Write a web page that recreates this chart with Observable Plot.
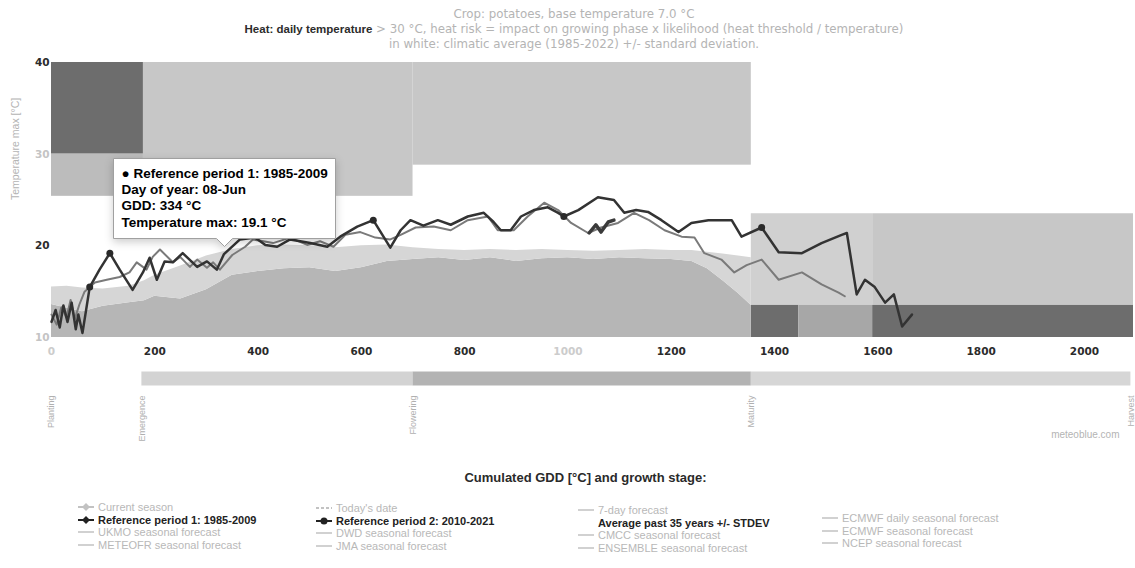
<!DOCTYPE html>
<html>
<head>
<meta charset="utf-8">
<script src="https://cdn.jsdelivr.net/npm/d3@7"></script>
<script src="https://cdn.jsdelivr.net/npm/@observablehq/plot@0.6"></script>
<style>
  html, body { margin: 0; padding: 0; background: #fff; }
  #chart { position: relative; width: 1135px; height: 568px; overflow: hidden; font-family: "Liberation Sans", Arial, sans-serif; }
  #chart > svg { position: absolute; left: 0; top: 0; }
  .ttl { position: absolute; left: 0; width: 1148px; text-align: center; font-family: "DejaVu Sans", sans-serif; font-size: 11.8px; color: #b4b4b4; white-space: nowrap; line-height: 14px; }
  .ttl b { color: #2c2c2c; font-family: "Liberation Sans", Arial, sans-serif; font-size: 11.5px; }
  .leg { position: absolute; font-size: 11px; white-space: nowrap; line-height: 12px; display: flex; align-items: center; }
  .leg svg { margin-right: 4px; }
</style>
</head>
<body>
<div id="chart"></div>
<script>
// ---------- texts ----------
const titleCrop = "Crop: potatoes, base temperature 7.0 °C";
const titleHeatBold = "Heat: daily temperature";
const titleHeatRest = " > 30 °C, heat risk = impact on growing phase x likelihood (heat threshold / temperature)";
const titleClimate = "in white: climatic average (1985-2022) +/- standard deviation.";
const yTitle = "Temperature max [°C]";
const xTitle = "Cumulated GDD [°C] and growth stage:";
const watermark = "meteoblue.com";

// ---------- tick labels ----------
const xTicksStrong = [200, 400, 600, 800, 1200, 1400, 1600, 1800, 2000];
const xTicksFaint = [0, 1000];
const yTicksStrong = [40, 20];
const yTicksFaint = [30, 10];

// ---------- growth stages ----------
const stageNames = ["Planting", "Emergence", "Flowering", "Maturity", "Harvest"];
const stageGdd = [0, 175, 700, 1355, 2090];

// ---------- heat risk zones ----------
const heatStart = [0, 0, 178, 700, 1355, 1590, 1355, 1447, 1590];
const heatEnd   = [178, 178, 700, 1355, 1590, 2095, 1447, 1590, 2095];
const heatLow   = [30, 25.4, 25.4, 28.8, 13.5, 13.5, 10, 10, 10];
const heatHigh  = [40, 30, 40, 40, 23.5, 23.5, 13.5, 13.5, 13.5];
const heatRisk  = ["high", "moderate", "low", "low", "mild", "low", "high", "elevated", "high"];

// ---------- climatic average +/- STDEV ----------
const avgGdd   = [0, 30, 60, 100, 150, 180, 200, 250, 300, 350, 400, 450, 500, 550, 600, 650, 700, 750, 800, 850, 900, 950, 1000, 1050, 1100, 1150, 1200, 1240, 1270, 1300, 1330, 1355];
const avgLower = [13.6, 13.2, 12.8, 13.4, 13.8, 14.0, 14.5, 14.2, 15.2, 16.8, 17.2, 17.5, 17.6, 17.2, 17.6, 18.3, 18.5, 18.7, 18.4, 18.7, 18.3, 18.6, 18.7, 18.5, 18.7, 18.6, 18.5, 18.3, 17.5, 16.2, 14.8, 13.5];
const avgUpper = [15.5, 15.6, 15.4, 15.3, 15.6, 16.2, 16.8, 17.8, 18.9, 19.6, 20.0, 20.1, 20.0, 19.8, 20.0, 20.1, 19.8, 19.6, 19.5, 19.6, 19.5, 19.6, 19.5, 19.4, 19.5, 19.6, 19.5, 19.5, 19.3, 19.1, 18.9, 18.7];

// ---------- Reference period 1: 1985-2009 ----------
const ref1Gdd  = [0, 8, 16, 23, 31, 39, 47, 52, 60, 74, 93, 113, 132, 157, 177, 190, 204, 219, 235, 254, 282, 301, 320, 334, 365, 394, 414, 437, 462, 501, 534, 559, 592, 623, 656, 676, 695, 720, 748, 773, 806, 837, 856, 870, 889, 909, 934, 961, 981, 992, 1020, 1058, 1089, 1109, 1132, 1155, 1181, 1214, 1239, 1272, 1317, 1336, 1375, 1408, 1453, 1491, 1530, 1540, 1559, 1575, 1594, 1614, 1631, 1647, 1666];
const ref1Temp = [11.7, 13.0, 11.1, 13.5, 11.7, 13.8, 10.9, 12.5, 10.5, 15.5, 17.4, 19.2, 17.4, 15.2, 17.1, 18.7, 16.3, 18.3, 18.2, 19.2, 17.7, 18.3, 17.4, 19.1, 20.7, 20.9, 20.1, 19.9, 20.7, 20.3, 19.9, 21.0, 22.1, 22.8, 19.8, 21.7, 22.8, 22.2, 22.8, 22.3, 23.2, 23.6, 22.6, 21.7, 21.7, 23.2, 23.9, 24.2, 23.6, 23.2, 23.9, 25.3, 25.0, 23.6, 23.9, 23.7, 22.8, 21.5, 22.5, 22.8, 22.8, 21.0, 22.0, 19.3, 19.2, 20.3, 21.2, 21.4, 14.7, 16.3, 15.5, 13.8, 14.7, 11.2, 12.5];
const ref1MarkerGdd = [74, 113, 623, 992, 1375];

// ---------- Reference period 2: 2010-2021 ----------
const ref2Gdd  = [0, 10, 19, 29, 37, 45, 54, 64, 84, 107, 132, 151, 165, 184, 196, 210, 235, 249, 268, 282, 301, 313, 326, 350, 375, 390, 429, 462, 495, 520, 546, 569, 598, 627, 656, 676, 705, 740, 773, 806, 845, 864, 895, 922, 954, 981, 1006, 1039, 1064, 1097, 1128, 1157, 1187, 1220, 1245, 1264, 1297, 1322, 1346, 1375, 1408, 1453, 1491, 1524, 1536];
const ref2Temp = [12.5, 11.4, 13.3, 12.2, 14.1, 12.0, 13.6, 15.0, 16.0, 16.3, 16.6, 17.1, 18.2, 17.4, 18.8, 19.6, 18.2, 18.8, 17.7, 18.5, 17.6, 18.2, 17.4, 19.0, 19.9, 20.7, 20.3, 20.9, 20.1, 20.5, 19.9, 21.2, 21.5, 20.9, 20.7, 21.2, 22.0, 22.1, 21.7, 22.8, 23.2, 21.7, 21.7, 23.2, 24.7, 23.9, 22.5, 21.4, 22.0, 22.5, 23.6, 22.8, 21.7, 21.0, 20.9, 19.2, 18.5, 17.1, 17.9, 18.5, 16.3, 17.1, 15.8, 14.9, 14.5];

// ---------- Current season ----------
const curGdd  = [1041, 1054, 1064, 1078, 1089];
const curTemp = [21.4, 22.3, 21.5, 22.6, 22.8];

// ---------- tooltip ----------
const tipSeries = "Reference period 1: 1985-2009";
const tipDay = "08-Jun";
const tipGdd = 334;
const tipTemp = 19.1;

// ---------- legend ----------
const legendCol1 = ["Current season", "Reference period 1: 1985-2009", "UKMO seasonal forecast", "METEOFR seasonal forecast"];
const legendCol2 = ["Today's date", "Reference period 2: 2010-2021", "DWD seasonal forecast", "JMA seasonal forecast"];
const legendCol3 = ["7-day forecast", "Average past 35 years +/- STDEV", "CMCC seasonal forecast", "ENSEMBLE seasonal forecast"];
const legendCol4 = ["ECMWF daily seasonal forecast", "ECMWF seasonal forecast", "NCEP seasonal forecast"];

// ================= build =================
const riskShade = {high: "#6d6d6d", elevated: "#a7a7a7", moderate: "#bcbcbc", low: "#c7c7c7", mild: "#d0d0d0"};
const heat = heatStart.map((s, i) => ({x1: s, x2: heatEnd[i], y1: heatLow[i], y2: heatHigh[i], risk: heatRisk[i]}));
const avg = avgGdd.map((g, i) => ({gdd: g, lower: avgLower[i], upper: avgUpper[i]}));
const ref1 = ref1Gdd.map((g, i) => ({gdd: g, temp: ref1Temp[i]}));
const ref1Markers = ref1.filter(d => ref1MarkerGdd.includes(d.gdd));
const ref2 = ref2Gdd.map((g, i) => ({gdd: g, temp: ref2Temp[i]}));
const cur = curGdd.map((g, i) => ({gdd: g, temp: curTemp[i]}));
const stages = stageNames.map((n, i) => ({name: n, gdd: stageGdd[i]}));
const stageBands = stages.slice(1, -1).map((s, i) => ({phase: s.name, start: s.gdd, end: stages[i + 2].gdd}));
const stageShade = {Emergence: "#d3d3d3", Flowering: "#b3b3b3", Maturity: "#d6d6d6"};
const yMin = 10;
const tipData = [{gdd: tipGdd, temp: tipTemp,
  text: `● ${tipSeries}\nDay of year: ${tipDay}\nGDD: ${tipGdd} °C\nTemperature max: ${tipTemp} °C`}];

const axisFont = {fontFamily: "DejaVu Sans", fontSize: 10.5, fontWeight: "bold", label: null, tickSize: 0, tickFormat: d => String(d)};

const chart = Plot.plot({
  width: 1135, height: 568,
  marginLeft: 51, marginRight: 2, marginTop: 62, marginBottom: 231,
  x: {domain: [0, 2095], axis: null},
  y: {domain: [yMin, 40], axis: null},
  color: {type: "identity"},
  style: {fontFamily: "Liberation Sans, sans-serif", background: "transparent", overflow: "visible"},
  marks: [
    Plot.rect(heat, {x1: "x1", x2: "x2", y1: "y1", y2: "y2", fill: d => riskShade[d.risk]}),
    Plot.areaY(avg, {x: "gdd", y1: yMin, y2: "lower", fill: "#b6b6b6"}),
    Plot.areaY(avg, {x: "gdd", y1: "lower", y2: "upper", fill: "#d6d6d6"}),
    Plot.line(ref2, {x: "gdd", y: "temp", stroke: "#7a7a7a", strokeWidth: 2, strokeLinejoin: "round"}),
    Plot.line(ref1, {x: "gdd", y: "temp", stroke: "#333333", strokeWidth: 2.5, strokeLinejoin: "round"}),
    Plot.dot(ref1Markers, {x: "gdd", y: "temp", r: 3.5, fill: "#2a2a2a"}),
    Plot.line(cur, {x: "gdd", y: "temp", stroke: "#3a3a3a", strokeWidth: 3.5, strokeLinejoin: "round"}),
    // axes
    Plot.axisY(yTicksStrong, {...axisFont, tickPadding: 2, color: "#2b2b2b"}),
    Plot.axisY(yTicksFaint, {...axisFont, tickPadding: 2, color: "#c4c4c4"}),
    Plot.axisX(xTicksStrong, {...axisFont, tickPadding: 10, color: "#2b2b2b"}),
    Plot.axisX(xTicksFaint, {...axisFont, tickPadding: 10, color: "#cccccc"}),
    Plot.text([yTitle], {frameAnchor: "left", dx: -36, rotate: -90, fill: "#b4b4b4", fontSize: 10.5}),
    // growth stage bar and labels
    Plot.ruleY(stageBands, {y: yMin, x1: "start", x2: "end", stroke: d => stageShade[d.phase], strokeWidth: 14, dy: 41}),
    Plot.text(stages, {x: "gdd", y: yMin, text: "name", rotate: -90, textAnchor: "end", dy: 58, fill: "#b0b0b0", fontSize: 9}),
    Plot.text([watermark], {frameAnchor: "bottom-right", dx: -14, dy: 100, textAnchor: "end", fill: "#b4b4b4", fontSize: 10}),
    Plot.text([xTitle], {frameAnchor: "bottom", dx: -7, dy: 144, fill: "#2a2a2a", fontSize: 13, fontWeight: "bold"}),
    // tooltip
    Plot.tip(tipData, {x: "gdd", y: "temp", title: "text", anchor: "bottom", pointerSize: 16, dy: -8, fontFamily: "Liberation Sans", fontSize: 13.5, fontWeight: "bold", lineHeight: 1.2, textPadding: 8, fill: "white", stroke: "#a0a0a0"})
  ]
});

const root = document.getElementById("chart");
root.appendChild(chart);

// titles
const t1 = document.createElement("div"); t1.className = "ttl"; t1.style.top = "7px"; t1.textContent = titleCrop; root.appendChild(t1);
const t2 = document.createElement("div"); t2.className = "ttl"; t2.style.top = "22px";
const b = document.createElement("b"); b.textContent = titleHeatBold; t2.appendChild(b);
t2.appendChild(document.createTextNode(titleHeatRest)); root.appendChild(t2);
const t3 = document.createElement("div"); t3.className = "ttl"; t3.style.top = "37px"; t3.textContent = titleClimate; root.appendChild(t3);

// legend
function marker(kind, color) {
  const ns = "http://www.w3.org/2000/svg";
  const s = document.createElementNS(ns, "svg");
  s.setAttribute("width", 16); s.setAttribute("height", 10);
  if (kind !== "none") {
    const l = document.createElementNS(ns, "line");
    l.setAttribute("x1", 0); l.setAttribute("x2", 16); l.setAttribute("y1", 5); l.setAttribute("y2", 5);
    l.setAttribute("stroke", color); l.setAttribute("stroke-width", kind === "line" ? 1.5 : 2);
    if (kind === "dash") l.setAttribute("stroke-dasharray", "3,2");
    s.appendChild(l);
  }
  if (kind === "diamond") {
    const p = document.createElementNS(ns, "path");
    p.setAttribute("d", "M8,1L12,5L8,9L4,5Z"); p.setAttribute("fill", color); s.appendChild(p);
  }
  if (kind === "dot") {
    const c = document.createElementNS(ns, "circle");
    c.setAttribute("cx", 8); c.setAttribute("cy", 5); c.setAttribute("r", 3.5); c.setAttribute("fill", color); s.appendChild(c);
  }
  return s;
}
const faint = "#b8b8b8", strong = "#222";
const legendLayout = [
  {labels: legendCol1, left: 78, top: 507, kinds: ["diamond", "diamond", "line", "line"], strong: [false, true, false, false]},
  {labels: legendCol2, left: 316, top: 508, kinds: ["dash", "dot", "line", "line"], strong: [false, true, false, false]},
  {labels: legendCol3, left: 578, top: 510, kinds: ["line", "none", "line", "line"], strong: [false, true, false, false]},
  {labels: legendCol4, left: 822, top: 518, kinds: ["line", "line", "line"], strong: [false, false, false]}
];
legendLayout.forEach(col => {
  col.labels.forEach((lab, i) => {
    const d = document.createElement("div");
    d.className = "leg";
    d.style.left = col.left + "px";
    d.style.top = (col.top + i * 12.5 - 6) + "px";
    const st = col.strong[i];
    d.appendChild(marker(col.kinds[i], st ? strong : "#c2c2c2"));
    const sp = document.createElement("span");
    sp.textContent = lab;
    sp.style.color = st ? strong : faint;
    if (st) sp.style.fontWeight = "bold";
    d.appendChild(sp);
    root.appendChild(d);
  });
});
</script>
</body>
</html>
